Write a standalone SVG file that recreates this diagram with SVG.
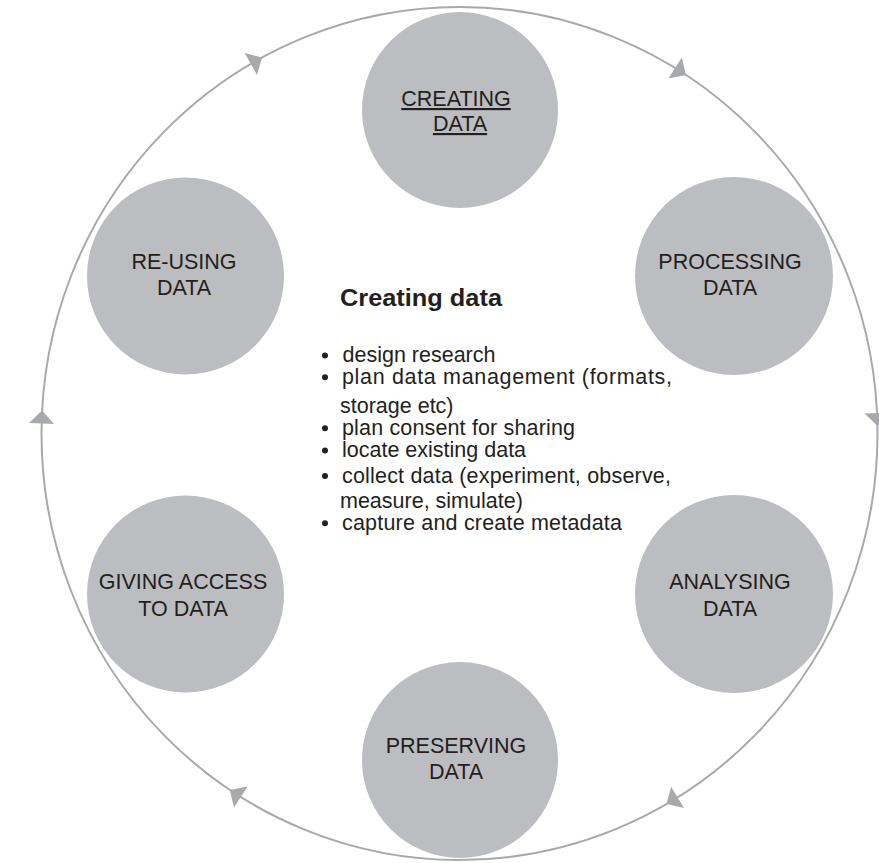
<svg xmlns="http://www.w3.org/2000/svg" width="879" height="863" viewBox="0 0 879 863">
<defs>
<style>
.node{fill:#bcbdc0}
.lbl{font-family:"Liberation Sans",Arial,sans-serif;font-size:21.5px;fill:#231f20;text-anchor:middle}
.ring{fill:none;stroke:#a7a9ac;stroke-width:2}
.arr{fill:#a7a9ac}
.dot{fill:#231f20}
.body{font-family:"Liberation Sans",Arial,sans-serif;font-size:21.5px;fill:#231f20}
.title{font-family:"Liberation Sans",Arial,sans-serif;font-size:24px;font-weight:bold;fill:#231f20}
</style>
<path id="arrow" d="M6,0 L-7,-12.5 L-7,12.5 Z"/>
</defs>
<rect width="879" height="863" fill="#ffffff"/>
<g id="connectors">
<ellipse class="ring" cx="459.5" cy="433.5" rx="418" ry="426.5"/>
<use href="#arrow" class="arr" transform="translate(256.9,60.5) rotate(-29.5)"/>
<use href="#arrow" class="arr" transform="translate(681,71.8) rotate(32.5)"/>
<use href="#arrow" class="arr" transform="translate(877.3,420.1) rotate(88.2)"/>
<use href="#arrow" class="arr" transform="translate(671.6,801) rotate(149)"/>
<use href="#arrow" class="arr" transform="translate(234.9,793.2) rotate(213)"/>
<use href="#arrow" class="arr" transform="translate(41.8,416.4) rotate(-87.7)"/>
</g>
<g id="creating">
<circle class="node" cx="460" cy="110" r="98"/>
<text class="lbl" x="456" y="106" text-decoration="underline">CREATING</text>
<text class="lbl" x="460" y="131" text-decoration="underline">DATA</text>
</g>
<g id="processing">
<circle class="node" cx="734" cy="276" r="99"/>
<text class="lbl" x="730" y="269">PROCESSING</text>
<text class="lbl" x="730" y="295">DATA</text>
</g>
<g id="analysing">
<circle class="node" cx="734" cy="594" r="99"/>
<text class="lbl" x="730" y="589">ANALYSING</text>
<text class="lbl" x="730" y="616">DATA</text>
</g>
<g id="preserving">
<circle class="node" cx="460" cy="760" r="98"/>
<text class="lbl" x="456" y="753">PRESERVING</text>
<text class="lbl" x="456" y="779">DATA</text>
</g>
<g id="giving">
<circle class="node" cx="185.5" cy="594" r="98.5"/>
<text class="lbl" x="183" y="589">GIVING ACCESS</text>
<text class="lbl" x="183" y="616">TO DATA</text>
</g>
<g id="reusing">
<circle class="node" cx="185.5" cy="276" r="98.5"/>
<text class="lbl" x="184" y="269">RE-USING</text>
<text class="lbl" x="184" y="295">DATA</text>
</g>
<g id="description">
<text class="title" x="340" y="306" textLength="162" lengthAdjust="spacingAndGlyphs">Creating data</text>
<circle class="dot" cx="325" cy="355.5" r="3"/>
<text class="body" x="342.5" y="362">design research</text>
<circle class="dot" cx="325" cy="377.3" r="3"/>
<text class="body" x="342" y="384" textLength="330" lengthAdjust="spacing">plan data management (formats,</text>
<text class="body" x="340" y="412.7">storage etc)</text>
<circle class="dot" cx="325" cy="428.3" r="3"/>
<text class="body" x="342" y="435" textLength="233" lengthAdjust="spacing">plan consent for sharing</text>
<circle class="dot" cx="325" cy="450.6" r="3"/>
<text class="body" x="342" y="457.3">locate existing data</text>
<circle class="dot" cx="325" cy="476" r="3"/>
<text class="body" x="342" y="482.7" textLength="329" lengthAdjust="spacing">collect data (experiment, observe,</text>
<text class="body" x="340" y="508.3">measure, simulate)</text>
<circle class="dot" cx="325" cy="523.3" r="3"/>
<text class="body" x="342" y="530" textLength="280" lengthAdjust="spacing">capture and create metadata</text>
</g>
</svg>
